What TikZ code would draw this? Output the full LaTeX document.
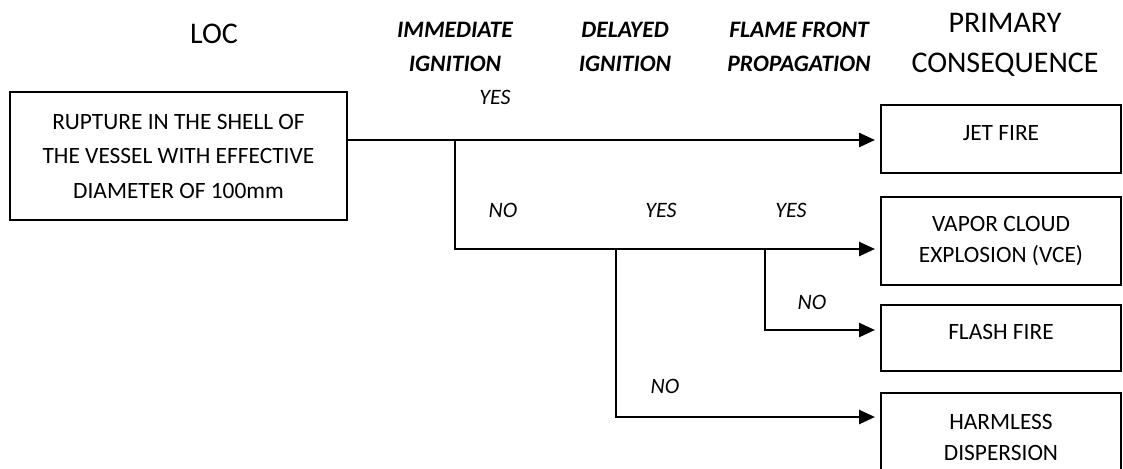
\documentclass[tikz,border=0pt]{standalone}
\usepackage{fontspec}
\setmainfont{Carlito}
\usetikzlibrary{arrows.meta}

\begin{document}
\begin{tikzpicture}[x=0.5pt,y=-0.5pt,
	box/.style={draw,line width=1pt,minimum width=120pt,align=center,inner sep=0pt,font=\fontsize{11.7}{15.5}\selectfont},
	onebox/.style={box,text depth=6pt},
	head/.style={align=center,font=\fontsize{11.8}{17}\selectfont\bfseries\itshape},
	title/.style={align=center,font=\fontsize{15}{20}\selectfont},
	ans/.style={font=\fontsize{11}{12}\selectfont\itshape},
	line/.style={line width=1.3pt},
	arr/.style={line,-{Triangle[length=8pt,width=7pt]},shorten >=2.5pt}]
	%%%%% START %%%%%
	\def\bx{1001}
	\useasboundingbox (0,0) rectangle (1123,468);

	% column titles
	\node[title] (loc) at (214,34) {LOC};
	\node[head] (imm) at (455,47) {IMMEDIATE\\IGNITION};
	\node[head] (del) at (625,47) {DELAYED\\IGNITION};
	\node[head] (ffp) at (799,47) {FLAME FRONT\\PROPAGATION};
	\node[title] (prim) at (1005,45) {PRIMARY\\CONSEQUENCE};

	% event and outcomes
	\node[box,minimum width=168.5pt,minimum height=64pt,font=\fontsize{11.7}{17.25}\selectfont] (rupture) at (178.5,156)
		{RUPTURE IN THE SHELL OF\\THE VESSEL WITH EFFECTIVE\\DIAMETER OF 100mm};
	\node[onebox,minimum height=34pt] (jet) at (\bx,139) {JET FIRE};
	\node[box,minimum height=44pt] (vce) at (\bx,241) {VAPOR CLOUD\\EXPLOSION (VCE)};
	\node[onebox,minimum height=33pt] (flash) at (\bx,338) {FLASH FIRE};
	\node[box,minimum height=44pt] (harm) at (\bx,437) {HARMLESS\\DISPERSION};

	% branch points
	\coordinate (j1) at (455,140);
	\coordinate (j2) at (616,249);
	\coordinate (j3) at (765,249);
	\coordinate (k3) at (765,330);
	\coordinate (k2) at (616,417);

	\draw[line] (rupture.east |- j1) -- (j1);
	\draw[arr] (j1) -- (jet.west |- j1);
	\draw[arr] (j1) |- (vce.west |- j2);
	\draw[arr] (j3) -- (k3) -- (flash.west |- k3);
	\draw[arr] (j2) -- (k2) -- (harm.west |- k2);

	% branch answers
	\node[ans] (yes1) at (495,97) {YES};
	\node[ans] (no1) at (503,210) {NO};
	\node[ans] (yes2) at (661,210) {YES};
	\node[ans] (yes3) at (791,210) {YES};
	\node[ans] (no2) at (812,302) {NO};
	\node[ans] (no3) at (665,386) {NO};
	%%%%% END %%%%%
\end{tikzpicture}
\end{document}
